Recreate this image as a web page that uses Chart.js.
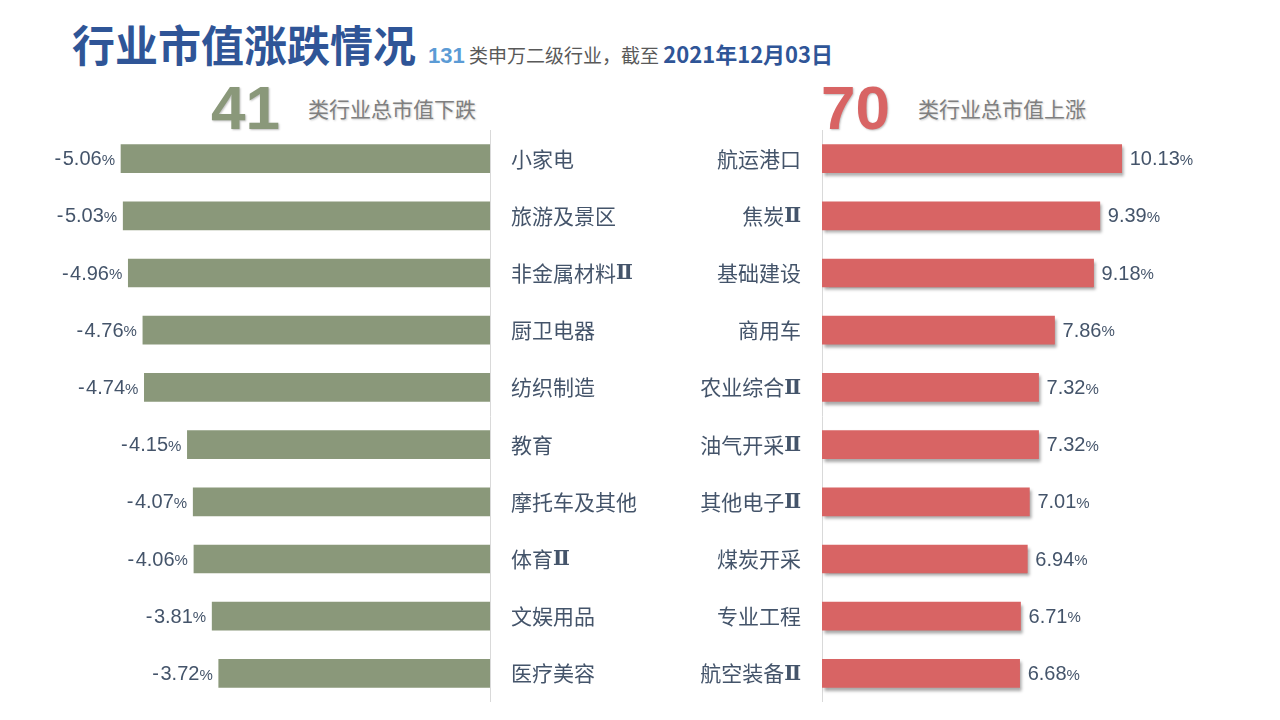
<!DOCTYPE html>
<html><head><meta charset="utf-8">
<script src="https://cdn.jsdelivr.net/npm/chart.js@4"></script>
<style>
html,body{margin:0;padding:0;background:#fff;width:1280px;height:720px;overflow:hidden;font-family:"Noto Sans CJK SC","Noto Sans",sans-serif;}
.abs{position:absolute;white-space:nowrap;}
#title{left:72px;top:13px;font-size:43px;font-weight:bold;color:#2F5597;line-height:60px;}
#sub{left:428px;top:39px;font-size:19px;color:#595959;line-height:28px;}
#sub .n{color:#5B9BD5;font-weight:bold;font-family:"Liberation Sans",Arial,sans-serif;font-size:22px;}
#sub .d{color:#2F5597;font-weight:bold;font-size:22px;}
.big{font-family:"Liberation Sans",Arial,sans-serif;font-weight:bold;font-size:62px;line-height:62px;top:77px;text-shadow:1px 1px 2px rgba(0,0,0,0.25);}
.lab{font-size:21px;color:#7F7F7F;top:93px;line-height:30px;text-shadow:1px 1px 2px rgba(0,0,0,0.2);}
canvas{position:absolute;}
</style></head><body>
<div id="title" class="abs">行业市值涨跌情况</div>
<div id="sub" class="abs"><span class="n">131</span> 类申万二级行业，截至 <span class="d">2021年12月03日</span></div>
<div class="abs big" style="left:211px;color:#8A987A;" id="nDown"></div>
<div class="abs lab" style="left:308px;">类行业总市值下跌</div>
<div class="abs big" style="left:821px;color:#D86464;" id="nUp"></div>
<div class="abs lab" style="left:918px;">类行业总市值上涨</div>
<canvas id="cl" width="660" height="572" style="left:0;top:130px;width:660px;height:572px;"></canvas>
<canvas id="cr" width="640" height="572" style="left:640px;top:130px;width:640px;height:572px;"></canvas>
<script>
const downCount = 41;
const upCount = 70;
const downCategories = ["小家电","旅游及景区","非金属材料Ⅱ","厨卫电器","纺织制造","教育","摩托车及其他","体育Ⅱ","文娱用品","医疗美容"];
const downValues = [-5.06,-5.03,-4.96,-4.76,-4.74,-4.15,-4.07,-4.06,-3.81,-3.72];
const upCategories = ["航运港口","焦炭Ⅱ","基础建设","商用车","农业综合Ⅱ","油气开采Ⅱ","其他电子Ⅱ","煤炭开采","专业工程","航空装备Ⅱ"];
const upValues = [10.13,9.39,9.18,7.86,7.32,7.32,7.01,6.94,6.71,6.68];

document.getElementById('nDown').textContent = downCount;
document.getElementById('nUp').textContent = upCount;

const TXT = '#44546A';
const CJK = '"Noto Sans CJK SC","Noto Sans",sans-serif';
const NUM = '"Liberation Sans",Arial,sans-serif';
const ROMAN = 'bold 20px "DejaVu Serif","Liberation Serif",serif';

function valueLabels(side){
  return {
    id:'vl'+side,
    afterDatasetsDraw(chart){
      const ctx = chart.ctx;
      const meta = chart.getDatasetMeta(0);
      const vals = chart.data.datasets[0].data;
      ctx.save();
      ctx.shadowColor='transparent';
      ctx.fillStyle = TXT;
      ctx.textBaseline = 'middle';
      ctx.textAlign='left';
      meta.data.forEach((el,i)=>{
        const v = vals[i];
        const neg = v < 0;
        const num = Math.abs(v).toFixed(2);
        const y = el.y + 1;
        ctx.font = '20px ' + NUM;
        const nw = ctx.measureText(num).width;
        const mw = neg ? ctx.measureText('-').width + 1.5 : 0;
        ctx.font = '15px ' + NUM;
        const pw = ctx.measureText('%').width;
        let x;
        if(side==='L'){ x = el.x - 6 - pw - nw - mw; } else { x = el.x + 8; }
        ctx.font = '20px ' + NUM;
        if(neg) ctx.fillText('-', x, y);
        ctx.fillText(num, x + mw, y);
        ctx.font = '15px ' + NUM;
        ctx.fillText('%', x + mw + nw, y + 1);
      });
      ctx.restore();
    }
  };
}
function catLabels(side){
  return {
    id:'cl'+side,
    afterDraw(chart){
      const ctx = chart.ctx;
      const yScale = chart.scales.y;
      const area = chart.chartArea;
      ctx.save();
      ctx.fillStyle = TXT;
      ctx.textBaseline = 'middle';
      ctx.textAlign = 'left';
      chart.data.labels.forEach((lab,i)=>{
        const y = yScale.getPixelForValue(i);
        const parts = lab.split('Ⅱ');
        const main = parts[0];
        const hasR = parts.length>1;
        ctx.font = '21px ' + CJK;
        const mw = ctx.measureText(main).width;
        ctx.font = ROMAN;
        const rw = hasR ? ctx.measureText('Ⅱ').width : 0;
        const total = mw + rw;
        const x = side==='L' ? area.right + 21 : area.left - 21 - total;
        ctx.font = '21px ' + CJK;
        ctx.fillText(main, x, y);
        if(hasR){ ctx.font = ROMAN; ctx.fillText('Ⅱ', x + mw, y + 1); }
      });
      ctx.restore();
    }
  };
}
const shadowPlugin = {
  id:'shadow',
  beforeDatasetsDraw(chart){
    const ctx=chart.ctx; ctx.save();
    ctx.shadowColor='rgba(0,0,0,0.35)'; ctx.shadowOffsetX=2; ctx.shadowOffsetY=3; ctx.shadowBlur=3;
  },
  afterDatasetsDraw(chart){ chart.ctx.restore(); }
};

function makeChart(id, cats, vals, color, side){
  const isL = side==='L';
  const plugins=[catLabels(side)];
  if(!isL) plugins.push(shadowPlugin);
  plugins.push(valueLabels(side));
  return new Chart(document.getElementById(id),{
    type:'bar',
    data:{labels:cats,datasets:[{data:vals,backgroundColor:color,barThickness:28,borderWidth:0}]},
    plugins:plugins,
    options:{
      indexAxis:'y',
      responsive:false,animation:false,devicePixelRatio:1,
      layout:{padding:isL?{left:16,right:0,top:0,bottom:0}:{left:0,right:29,top:0,bottom:0}},
      plugins:{legend:{display:false},tooltip:{enabled:false}},
      scales:{
        x:{display:false,min:isL?-6.5:0,max:isL?0:14.5},
        y:{
          position:isL?'right':'left',
          grid:{display:false,drawTicks:false},
          border:{display:true,color:'#D9D9D9',width:1},
          ticks:{display:false},
          afterFit(axis){ axis.width = isL?170:182; }
        }
      }
    }
  });
}
makeChart('cl', downCategories, downValues, '#8A987A', 'L');
makeChart('cr', upCategories, upValues, '#D86464', 'R');
</script>
</body></html>
